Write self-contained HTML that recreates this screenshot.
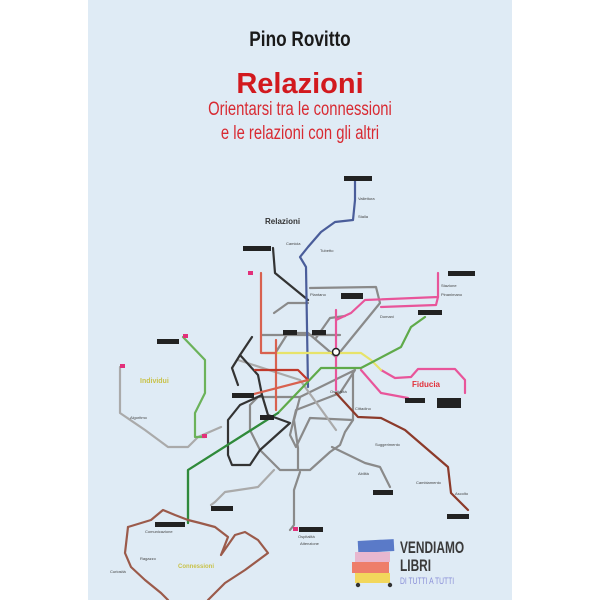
<!DOCTYPE html>
<html><head><meta charset="utf-8"><style>
html,body{margin:0;padding:0;background:#fff;}
body{width:600px;height:600px;position:relative;overflow:hidden;font-family:"Liberation Sans",sans-serif;}
.cover{position:absolute;left:88px;top:0;width:424px;height:600px;background:#dfebf5;}
.t{position:absolute;white-space:nowrap;transform-origin:0 0;}
.c{position:absolute;left:0;width:600px;text-align:center;white-space:nowrap;transform-origin:300px 0;}
</style></head><body>
<div class="cover"></div>
<div class="c" style="top:28px;font-size:21px;font-weight:bold;color:#1a1a1a;transform:scaleX(0.82);">Pino Rovitto</div>
<div class="c" style="top:68px;font-size:29px;font-weight:bold;color:#d2191e;">Relazioni</div>
<div class="c" style="top:99px;font-size:19px;color:#d82a32;transform:scaleX(0.78);">Orientarsi tra le connessioni</div>
<div class="c" style="top:123px;font-size:19px;color:#d82a32;transform:scaleX(0.78);">e le relazioni con gli altri</div>
<svg width="600" height="600" style="position:absolute;left:0;top:0" fill="none" stroke-linejoin="round" stroke-linecap="round">
<g stroke-width="2.2">
<polyline stroke="#8a8a8a" points="274,313 288,303 308,303"/>
<polyline stroke="#8a8a8a" points="310,288 376,287 380,303 336,357 308,333 288,333 276,352"/>
<polyline stroke="#8a8a8a" points="261,335 340,335"/>
<polyline stroke="#8a8a8a" points="316,338 330,318 345,316"/>
<polyline stroke="#8a8a8a" points="353,372 353,420 345,432 340,445 330,452 310,470 280,470 260,450 250,430 250,405 258,397 300,397 294,420 298,448 298,470"/>
<polyline stroke="#8a8a8a" points="300,397 355,370 340,393 296,410 290,435 296,447 310,418 353,420"/>
<polyline stroke="#8a8a8a" points="332,447 365,463 380,467 390,487"/>
<polyline stroke="#8a8a8a" points="300,472 294,490 294,525 290,530"/>
<polyline stroke="#aaaaaa" points="274,470 258,487 225,492 215,502 211,505"/>
<polyline stroke="#aaaaaa" points="120,367 120,413 145,430 168,447 188,447 198,437 221,427"/>
<polyline stroke="#aaaaaa" points="238,360 300,380 336,430"/>
<polyline stroke="#333" points="273,248 275,273 308,300"/>
<polyline stroke="#333" points="252,337 240,355 258,375 262,395 268,415 290,423 260,450 250,465 232,465 228,455 228,420 240,405 262,395"/>
<polyline stroke="#333" points="240,355 232,368 238,385"/>
<polyline stroke="#4a5d9a" points="355,180 355,200 353,220 335,222 321,232 308,247 300,257 306,267 308,387"/>
<polyline stroke="#e8559a" points="336,310 336,390"/>
<polyline stroke="#e8559a" points="336,320 351,313 365,300 438,297 438,273"/>
<polyline stroke="#e8559a" points="381,307 436,305 438,297"/>
<polyline stroke="#e8559a" points="361,370 381,393 408,398"/>
<polyline stroke="#e8559a" points="381,370 395,378 411,377 418,369 455,369 465,380 465,393"/>
<polyline stroke="#e7e36a" points="265,353 361,353 371,360 381,370"/>
<polyline stroke="#5faa4a" points="425,317 411,327 401,347 361,368 321,368 278,413 188,470 188,523"/>
<polyline stroke="#2f8a3c" points="278,413 188,470 188,523"/>
<polyline stroke="#6bb25a" points="183,337 205,360 205,393 195,413 195,437 205,437"/>
<polyline stroke="#d8614f" points="261,273 261,353 275,353"/>
<polyline stroke="#d8614f" points="276,340 276,410"/>
<polyline stroke="#c0392b" points="255,370 298,370 308,380"/>
<polyline stroke="#d8614f" points="308,380 250,395"/>
<polyline stroke="#8c3a2a" points="336,393 358,417 381,418 405,430 448,467 451,493 468,510"/>
<polyline stroke="#9b5a4a" points="128,527 151,520 163,510 175,515 188,520 200,523 215,527 228,537 221,555 235,535 245,532 258,540 268,553 245,570 225,583 208,600"/>
<polyline stroke="#9b5a4a" points="128,527 125,553 131,567 145,580 161,593 168,600"/>
</g>
<circle cx="336" cy="352" r="3.5" fill="#fff" stroke="#222" stroke-width="1.5"/>
<g fill="#222">
<rect x="344" y="176" width="28" height="5"/><rect x="243" y="246" width="28" height="5"/>
<rect x="448" y="271" width="27" height="5"/><rect x="341" y="293" width="22" height="6"/>
<rect x="418" y="310" width="24" height="5"/><rect x="157" y="339" width="22" height="5"/>
<rect x="283" y="330" width="14" height="5"/><rect x="312" y="330" width="14" height="5"/>
<rect x="232" y="393" width="22" height="5"/><rect x="260" y="415" width="14" height="5"/>
<rect x="405" y="398" width="20" height="5"/><rect x="437" y="398" width="24" height="10"/>
<rect x="211" y="506" width="22" height="5"/><rect x="373" y="490" width="20" height="5"/>
<rect x="447" y="514" width="22" height="5"/><rect x="155" y="522" width="30" height="5"/>
<rect x="299" y="527" width="24" height="5"/>
</g>
<g fill="#e2307a"><rect x="248" y="271" width="5" height="4"/><rect x="183" y="334" width="5" height="4"/><rect x="120" y="364" width="5" height="4"/><rect x="202" y="434" width="5" height="4"/><rect x="293" y="527" width="5" height="4"/></g>
<g font-family="Liberation Sans" font-size="4" fill="#444">
<text x="358" y="200">Vallettura</text><text x="358" y="218">Stalla</text>
<text x="286" y="245">Camicia</text><text x="320" y="252">Tubetto</text>
<text x="441" y="287">Stazione</text><text x="441" y="296">Pinanimano</text>
<text x="310" y="296">Plantano</text><text x="380" y="318">Domani</text>
<text x="130" y="419">Algoritmo</text><text x="330" y="393">Ospitalità</text>
<text x="355" y="410">Cittadino</text><text x="375" y="446">Suggerimento</text>
<text x="358" y="475">Abilità</text><text x="416" y="484">Cambiamento</text>
<text x="455" y="495">Ascolto</text><text x="298" y="538">Ospitalità</text>
<text x="300" y="545">Attenzione</text><text x="145" y="533">Comunicazione</text>
<text x="140" y="560">Ragazzo</text><text x="110" y="573">Curiosità</text>
</g>
<text x="265" y="224" font-family="Liberation Sans" font-size="8" font-weight="bold" fill="#333">Relazioni</text>
<text x="412" y="387" font-family="Liberation Sans" font-size="8" font-weight="bold" fill="#e2303a">Fiducia</text>
<text x="140" y="383" font-family="Liberation Sans" font-size="7" font-weight="bold" fill="#c9c24a">Individui</text>
<text x="178" y="568" font-family="Liberation Sans" font-size="6" font-weight="bold" fill="#c9c24a">Connessioni</text>
<rect x="358" y="540" width="36" height="12" fill="#5a7ac8" transform="rotate(-3 376 546)"/>
<rect x="355" y="552" width="35" height="10" fill="#e8b7cf"/>
<rect x="352" y="562" width="37" height="11" fill="#ee7e6a"/>
<rect x="355" y="573" width="35" height="10" fill="#f2d75c"/>
<circle cx="358" cy="585" r="2.2" fill="#333"/><circle cx="390" cy="585" r="2.2" fill="#333"/>
</svg>
<div class="t" style="left:400px;top:538px;font-size:17px;font-weight:bold;color:#3a3a3a;transform:scaleX(0.7);">VENDIAMO</div>
<div class="t" style="left:400px;top:556px;font-size:17px;font-weight:bold;color:#3a3a3a;transform:scaleX(0.7);">LIBRI</div>
<div class="t" style="left:400px;top:576px;font-size:9px;color:#8a8fd8;transform:scaleX(0.75);">DI TUTTI A TUTTI</div>
</body></html>
